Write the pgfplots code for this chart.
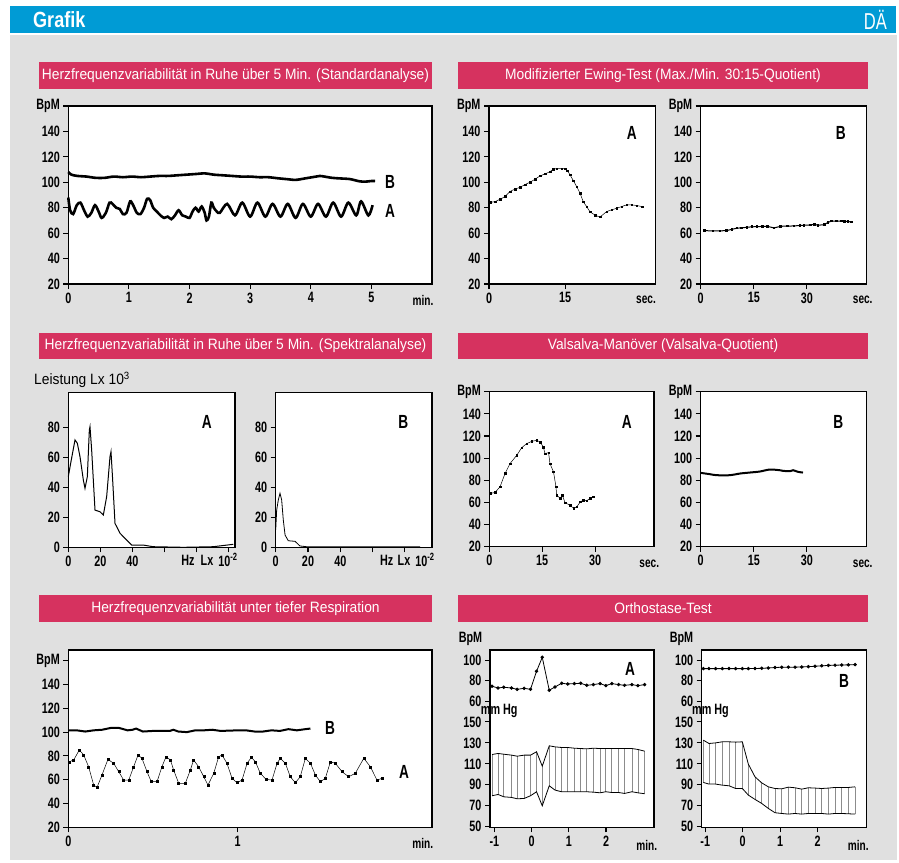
\documentclass[border=0pt]{standalone}
\usepackage{fontspec}
\setmainfont{Liberation Sans}[FakeStretch=0.92]
\newfontfamily\tfam{Liberation Sans}[FakeStretch=0.72]
\newfontfamily\gfam{Liberation Sans}[FakeStretch=0.82]
\usepackage{pgfplots}
\pgfplotsset{compat=1.18}
\usepackage{pgfplotstable}

\definecolor{dablue}{RGB}{0,155,213}
\definecolor{dapink}{RGB}{214,50,95}
\definecolor{dagray}{RGB}{224,224,224}

\newcommand\tlf{\tfam\bfseries\fontsize{15bp}{15bp}\selectfont}
\newcommand\ttlf{\fontsize{15bp}{16bp}\selectfont}
\newcommand\abf{\tfam\bfseries\fontsize{19bp}{19bp}\selectfont}
\newcommand\unf{\tfam\bfseries\fontsize{14bp}{14bp}\selectfont}

\pgfplotsset{
 dae/.style={scale only axis, anchor=south west, axis background/.style={fill=white},
   axis line style={line width=1.3bp}, tick style={line width=1.1bp, black},
   tick align=outside, major tick length=5bp, tick pos=left,
   tick label style={font=\tlf}, clip=false},
 dotline/.style={black, line width=0.5bp, mark=square*, mark size=0.8bp, mark options={solid}},
}

% ---------- data ----------
\pgfplotstableread{
t v
0.00 108
0.05 106
0.15 105
0.30 104.5
0.45 103.5
0.60 103.5
0.75 104.5
0.90 104
1.05 104.5
1.20 104
1.35 104.5
1.50 105
1.65 105
1.80 105.5
1.95 106
2.10 106.5
2.25 107
2.40 106
2.55 105.5
2.70 105
2.85 104.5
3.00 104.5
3.15 104
3.30 104
3.45 103.2
3.60 102.5
3.75 101.9
3.90 103
4.05 104.2
4.15 105
4.35 103.5
4.50 103
4.65 102.5
4.80 100.8
4.90 100.5
5.00 101
5.06 101
}\tabOneB

\pgfplotstableread{
t v
0.00 88
0.03 78
0.08 75
0.14 82
0.20 84
0.26 78
0.32 73
0.38 76
0.44 82
0.50 77
0.55 72
0.62 76
0.68 84
0.73 83
0.79 80
0.85 79
0.90 75
0.96 76
1.02 85
1.07 82
1.13 76
1.19 75
1.25 80
1.30 87
1.35 86
1.40 80
1.46 77
1.52 74
1.58 72
1.64 73
1.70 71
1.76 74
1.82 78
1.88 74
1.94 73
2.00 72
2.05 77
2.10 80
2.15 77
2.20 81
2.25 76
2.28 70
2.32 73
2.36 84
2.40 80
2.45 77
2.50 76
2.62 83
2.75 74
2.87 84
3.00 73
3.12 84
3.25 73
3.37 83
3.50 73
3.62 83
3.75 72
3.87 83
4.00 73
4.12 83
4.25 73
4.37 84
4.50 73
4.62 84
4.75 74
4.83 85
4.95 74
5.02 82
}\tabOneA

\pgfplotstableread{
t v
0.2 84.3
1.18 84.8
2.17 86.7
3.16 88.8
4.14 92.7
5.13 94.6
6.11 96.1
7.1 98.2
8.09 100.1
9.07 102.4
10.06 105.0
11.05 106.6
12.03 108.4
12.69 110.3
13.35 110.8
14.34 110.8
14.99 110.6
15.45 109.2
15.98 105.8
16.63 101.3
17.29 96.6
17.95 91.4
18.6 84.8
19.27 80.9
19.92 76.9
20.91 74.3
21.89 73.0
23.2 76.9
24.2 78.3
25.19 79.6
26.17 80.9
27.16 82.2
28.15 82.2
29.13 81.7
30.2 80.9
}\tabTwoA

\pgfplotstableread{
t v
1.14 62.0
3.5 61.7
5.4 61.8
7.3 62.0
8.8 63.0
10.2 63.9
11.6 64.2
13.05 64.6
14.5 65.0
15.9 65.1
17.4 65.3
18.8 65.4
20.7 64.1
22.6 65.4
24.5 65.5
26.4 65.7
28.0 66.0
29.2 66.2
31.1 66.5
32.1 67.0
33.1 66.2
34.9 66.7
36.0 68.5
36.9 69.4
38.3 69.4
39.7 69.4
40.6 69.3
41.6 69.1
42.6 68.8
}\tabTwoB

\pgfplotstableread{
f v
0 47.2
1.48 56.2
4.19 71.8
5.65 69.6
7.31 60.6
9.4 45.0
10.44 39.5
11.9 47.2
13.15 78.5
13.56 80.7
14.6 65.1
16.69 24.9
19.81 23.8
21.9 21.6
23.98 33.9
26.06 60.6
26.69 64
27.73 45
29.19 16
32.31 9.4
35.44 6.0
39.6 1.5
46.9 1.5
53.1 0.4
71.9 0
90.6 0.4
103.1 2.0
}\tabThreeA

\pgfplotstableread{
f v
0 11.6
0.6 24.9
1.6 31.6
2.66 36.1
3.7 31.6
4.7 18.3
5.8 8.2
7.8 4.4
12 4.0
15 0.9
19.2 0.4
89.4 0.4
}\tabThreeB

\pgfplotstableread{
t v
0.2 68.1
1.62 69.0
3.04 74.1
4.46 86.1
5.88 95.1
7.78 102.6
9.2 109.5
10.6 113.1
12.05 115.2
13.47 116.1
14.4 114.6
15.3 110.1
15.8 104.1
16.8 105.0
17.2 95.1
18.2 87.6
18.9 74.1
19.1 66.6
20.1 63.6
20.7 66.6
21.5 59.6
22.9 57.6
23.9 54.6
24.8 56.0
25.8 60.5
26.7 62.1
27.6 61.5
28.6 63.6
29.5 65.0
}\tabFourA

\pgfplotstableread{
t v
0 86.7
2.6 85.5
4.5 84.6
8.3 84.6
11.1 86.1
13.9 87.0
16.7 87.9
19.5 89.7
22.3 89.1
23.3 88.5
25.2 88.2
26.1 89.1
27.5 87.6
28.9 87.0
}\tabFourB

\pgfplotstableread{
t v
0 101.5
0.05 101.5
0.1 100.5
0.15 101.5
0.2 102
0.25 103.5
0.3 103.5
0.35 101.5
0.38 102
0.4 103
0.44 100.5
0.5 101
0.6 101
0.62 102
0.65 100.5
0.7 100
0.75 101.5
0.8 101.5
0.85 102
0.9 101
1.0 101.5
1.05 101.5
1.1 100.5
1.15 100.5
1.2 101.5
1.25 101
1.3 102.5
1.35 101.5
1.4 102.5
1.43 103
}\tabFiveB

\pgfplotstableread{
t v
0.006 75.1
0.032 76.6
0.065 85
0.091 80.8
0.12 70.9
0.15 55.5
0.17 53.6
0.199 64
0.234 77.1
0.268 73.8
0.298 66.7
0.327 59.7
0.357 59.7
0.386 70.9
0.412 80.8
0.435 78
0.465 66.7
0.49 58.3
0.524 58.3
0.553 70.9
0.577 79.3
0.603 76.6
0.622 68.2
0.652 57
0.691 57
0.721 68.2
0.74 76.6
0.77 70.9
0.8 62.5
0.825 55.5
0.859 65.4
0.888 79.3
0.908 80.8
0.937 73.8
0.967 61.2
0.996 57.5
1.026 59.7
1.056 73.8
1.081 78.8
1.105 75.1
1.134 65.4
1.168 60.3
1.203 59.7
1.233 73.8
1.252 78
1.282 73.8
1.311 62.5
1.341 57.5
1.37 62.5
1.4 78
1.43 73.8
1.459 64
1.489 58.3
1.518 61.2
1.548 75.1
1.577 73.8
1.617 66.7
1.656 62.5
1.695 65.4
1.745 78
1.784 70.9
1.823 59.7
1.853 61.2
}\tabFiveA

\pgfplotstableread{
t b s d
-1.061 74.7 118.9 79.6
-0.899 73.0 119.9 80.8
-0.747 73.7 119.2 78.6
-0.540 73.0 118.3 78.0
-0.387 71.7 117.3 76.7
-0.199 72.7 118.3 77.0
-0.028 71.7 118.3 79.6
0.134 89.3 121.5 83.4
0.287 102.9 107.8 70.0
0.475 70.8 127.2 89.1
0.628 74.0 126.2 85.0
0.808 77.6 125.6 83.4
0.970 76.9 125.6 83.4
1.149 77.3 124.9 83.4
1.320 77.6 124.6 83.4
1.482 75.6 124.3 83.4
1.661 76.3 124.9 83.0
1.841 77.3 124.6 82.4
1.994 75.3 124.6 83.4
2.156 77.3 124.6 82.7
2.335 76.3 124.6 82.7
2.497 75.6 124.6 81.8
2.695 76.3 124.6 83.4
2.856 75.3 123.7 82.4
3.036 76.3 122.1 81.5
}\tabSixA

\pgfplotstableread{
t b s d
-1.053 91.9 132.6 92.3
-0.901 91.9 129.4 90.7
-0.723 91.9 130.0 90.7
-0.545 91.9 131.0 89.7
-0.366 91.9 131.0 89.1
-0.188 91.9 130.7 86.5
-0.010 91.9 131.0 86.5
0.151 91.9 109.7 80.2
0.329 92.0 97.6 76.1
0.507 92.2 91.9 72.3
0.685 92.5 88.1 67.5
0.864 93.0 86.5 63.4
1.042 93.2 86.2 62.7
1.220 93.3 87.8 62.1
1.398 93.3 87.2 62.7
1.577 93.5 85.9 62.1
1.755 93.8 87.2 62.7
1.933 94.2 86.9 62.7
2.111 94.6 86.5 62.7
2.290 95.0 86.9 62.1
2.468 95.2 87.5 62.7
2.646 95.4 87.5 62.7
2.824 95.6 87.5 62.4
3.003 95.8 88.1 62.1
}\tabSixB

\begin{document}
\begin{tikzpicture}[x=1bp,y=-1bp]
\path[use as bounding box] (0,0) rectangle (899,863);
\fill[white] (0,0) rectangle (899,863);
\fill[dagray] (10,34.5) rectangle (897,860);
\fill[dablue] (10,6) rectangle (896,32.7);
\node[anchor=west, text=white, font=\gfam\bfseries\fontsize{22bp}{22bp}\selectfont, inner sep=0pt] at (33,20) {Grafik};
\node[anchor=east, text=white, font=\tfam\fontsize{23bp}{23bp}\selectfont, inner sep=0pt] at (887,20) {DÄ};

% title bars
\fill[dapink] (39,62) rectangle (432,88.7);
\fill[dapink] (458,62) rectangle (868,88.7);
\fill[dapink] (39,332.7) rectangle (432,359.3);
\fill[dapink] (458,332.7) rectangle (868,359.3);
\fill[dapink] (39,595) rectangle (432,621.7);
\fill[dapink] (458,595) rectangle (868,621.7);
\node[text=white, font=\ttlf] at (235.5,75.3) {Herzfrequenzvariabilität in Ruhe über 5 Min. (Standardanalyse)};
\node[text=white, font=\ttlf] at (663,75.3) {Modifizierter Ewing-Test (Max./Min. 30:15-Quotient)};
\node[text=white, font=\ttlf] at (235.5,346) {Herzfrequenzvariabilität in Ruhe über 5 Min. (Spektralanalyse)};
\node[text=white, font=\ttlf] at (663,346) {Valsalva-Manöver (Valsalva-Quotient)};
\node[text=white, font=\ttlf] at (235.5,608.3) {Herzfrequenzvariabilität unter tiefer Respiration};
\node[text=white, font=\ttlf] at (663,608.3) {Orthostase-Test};

% ---------- panel 1 ----------
\begin{axis}[dae, at={(68.3bp,-284bp)}, width=363.7bp, height=178bp,
  xmin=0, xmax=6, ymin=20, ymax=160,
  xtick={0,1,2,3,4,5}, xticklabels={0,1,2,3,4,5},
  ytick={20,40,60,80,100,120,140,160}, yticklabels={20,40,60,80,100,120,140,BpM}]
\addplot[black, line width=2.6bp, smooth, tension=0.5] table[x=t,y=v] {\tabOneB};
\addplot[black, line width=2.6bp, smooth, tension=0.5] table[x=t,y=v] {\tabOneA};
\end{axis}

% ---------- panel 2 ----------
\begin{axis}[dae, at={(489bp,-284bp)}, width=166.3bp, height=178bp,
  xmin=0, xmax=32.8, ymin=20, ymax=160,
  xtick={0,15}, xticklabels={0,15},
  ytick={20,40,60,80,100,120,140,160}, yticklabels={20,40,60,80,100,120,140,BpM}]
\addplot[dotline, smooth] table[x=t,y=v] {\tabTwoA};
\end{axis}
\begin{axis}[dae, at={(700.7bp,-284bp)}, width=166bp, height=178bp,
  xmin=0, xmax=46.9, ymin=20, ymax=160,
  xtick={0,15,30}, xticklabels={0,15,30},
  ytick={20,40,60,80,100,120,140,160}, yticklabels={20,40,60,80,100,120,140,BpM}]
\addplot[dotline, line width=1bp] table[x=t,y=v] {\tabTwoB};
\end{axis}

% ---------- panel 3 ----------
\begin{axis}[dae, at={(68.3bp,-547.3bp)}, width=166.7bp, height=154.6bp,
  xmin=0, xmax=104.2, ymin=0, ymax=103.4,
  xtick={0,20,40,60,80,100}, xticklabels={0,20,40,{},{},{}},
  ytick={0,20,40,60,80}, yticklabels={0,20,40,60,80}]
\addplot[black, line width=1bp] table[x=f,y=v] {\tabThreeA};
\end{axis}
\begin{axis}[dae, at={(275.7bp,-547.3bp)}, width=156.3bp, height=154.6bp,
  xmin=0, xmax=96.8, ymin=0, ymax=103.4,
  xtick={0,20,40,60,80}, xticklabels={0,20,40,{},{}},
  ytick={0,20,40,60,80}, yticklabels={0,20,40,60,80}]
\addplot[black, line width=0.8bp] table[x=f,y=v] {\tabThreeB};
\end{axis}

% ---------- panel 4 ----------
\begin{axis}[dae, at={(489.3bp,-546.7bp)}, width=164.7bp, height=155bp,
  xmin=0, xmax=46.7, ymin=20, ymax=160,
  xtick={0,15,30}, xticklabels={0,15,30},
  ytick={20,40,60,80,100,120,140,160}, yticklabels={20,40,60,80,100,120,140,BpM}]
\addplot[dotline] table[x=t,y=v] {\tabFourA};
\end{axis}
\begin{axis}[dae, at={(700.7bp,-546.7bp)}, width=166bp, height=155bp,
  xmin=0, xmax=46.9, ymin=20, ymax=160,
  xtick={0,15,30}, xticklabels={0,15,30},
  ytick={20,40,60,80,100,120,140,160}, yticklabels={20,40,60,80,100,120,140,BpM}]
\addplot[black, line width=2bp, smooth] table[x=t,y=v] {\tabFourB};
\end{axis}

% ---------- panel 5 ----------
\begin{axis}[dae, at={(68.3bp,-827.3bp)}, width=363.7bp, height=177.3bp,
  xmin=0, xmax=2.148, ymin=20, ymax=169,
  xtick={0,1}, xticklabels={0,1},
  ytick={20,40,60,80,100,120,140,160}, yticklabels={20,40,60,80,100,120,140,BpM}]
\addplot[black, line width=2bp] table[x=t,y=v] {\tabFiveB};
\addplot[dotline, mark size=1bp] table[x=t,y=v] {\tabFiveA};
\end{axis}

% ---------- panel 6 ----------
\begin{axis}[dae, at={(490bp,-827.3bp)}, width=164bp, height=177.3bp,
  xmin=-1.116, xmax=3.288, ymin=49.5, ymax=218.5,
  xtick={-1,0,1,2}, xticklabels={-1,0,1,2},
  ytick={50,70,90,110,130,150,169.6,189.2,208.7}, yticklabels={50,70,90,110,130,150,60,80,100}]
\addplot[draw=none, forget plot, error bars/.cd, y dir=minus, y explicit,
  error bar style={draw=black!45, line width=0.8bp}, error mark=none]
  table[x=t, y=s, y error expr=\thisrow{s}-\thisrow{d}] {\tabSixA};
\addplot[black, line width=0.8bp] table[x=t,y=s] {\tabSixA};
\addplot[black, line width=0.8bp] table[x=t,y=d] {\tabSixA};
\addplot[black, line width=0.8bp, mark=*, mark size=1.3bp]
  table[x=t, y expr={169.6+(\thisrow{b}-60)*0.9775}] {\tabSixA};
\end{axis}
\begin{axis}[dae, at={(701.7bp,-827.3bp)}, width=165bp, height=177.3bp,
  xmin=-1.095, xmax=3.313, ymin=49.5, ymax=218.5,
  xtick={-1,0,1,2}, xticklabels={-1,0,1,2},
  ytick={50,70,90,110,130,150,169.6,189.2,208.7}, yticklabels={50,70,90,110,130,150,60,80,100}]
\addplot[draw=none, forget plot, error bars/.cd, y dir=minus, y explicit,
  error bar style={draw=black!45, line width=0.8bp}, error mark=none]
  table[x=t, y=s, y error expr=\thisrow{s}-\thisrow{d}] {\tabSixB};
\addplot[black, line width=0.8bp] table[x=t,y=s] {\tabSixB};
\addplot[black, line width=0.8bp] table[x=t,y=d] {\tabSixB};
\addplot[black, line width=0.8bp, mark=*, mark size=1.3bp]
  table[x=t, y expr={169.6+(\thisrow{b}-60)*0.9775}] {\tabSixB};
\end{axis}

% ---------- labels ----------
\node[font=\abf] at (390,181.7) {B};
\node[font=\abf] at (390,211) {A};
\node[font=\abf] at (631.7,133.3) {A};
\node[font=\abf] at (840.7,133.3) {B};
\node[font=\abf] at (206.7,421.7) {A};
\node[font=\abf] at (403.3,421.7) {B};
\node[font=\abf] at (626.7,421.7) {A};
\node[font=\abf] at (838.3,421.7) {B};
\node[font=\abf] at (330,728.3) {B};
\node[font=\abf] at (404,771.7) {A};
\node[font=\abf] at (630,669.3) {A};
\node[font=\abf] at (844,680.7) {B};

\node[font=\unf] at (423,300) {min.};
\node[font=\unf] at (646,300) {sec.};
\node[font=\unf] at (862.7,300) {sec.};
\node[font=\unf] at (649.3,563.3) {sec.};
\node[font=\unf] at (862.7,563.3) {sec.};
\node[font=\unf] at (422.7,843.3) {min.};
\node[font=\unf] at (646.7,845) {min.};
\node[font=\unf] at (858.3,845) {min.};

\node[anchor=west, font=\fontsize{15bp}{15bp}\selectfont, inner sep=0pt] at (34,380) {Leistung Lx 10\textsuperscript{3}};
\node[font=\tlf] at (188,560) {Hz};
\node[font=\tlf] at (207,560) {Lx};
\node[font=\tlf] at (228,560) {10\textsuperscript{-2}};
\node[font=\tlf] at (386.7,560) {Hz};
\node[font=\tlf] at (404,560) {Lx};
\node[font=\tlf] at (425,560) {10\textsuperscript{-2}};

\node[font=\tlf] at (470.5,639.3) {BpM};
\node[font=\tlf] at (681.5,639.3) {BpM};
\node[anchor=west, font=\tlf, inner sep=0pt] at (480.7,710.7) {mm Hg};
\node[anchor=west, font=\tlf, inner sep=0pt] at (692,710.7) {mm Hg};
\end{tikzpicture}
\end{document}
